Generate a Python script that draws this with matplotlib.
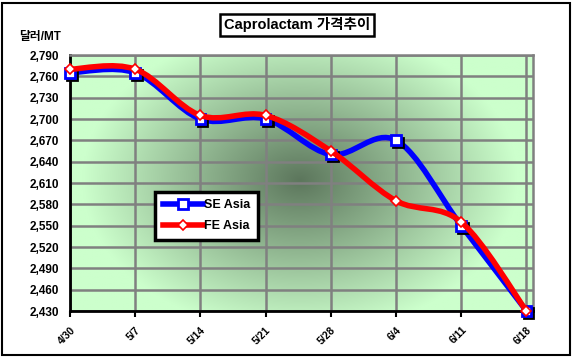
import numpy as np
import matplotlib
matplotlib.use("Agg")
import matplotlib.pyplot as plt
from matplotlib.path import Path
from matplotlib.patches import PathPatch, Rectangle
from matplotlib.lines import Line2D
import matplotlib.patheffects as pe

categories = ["4/30", "5/7", "5/14", "5/21", "5/28", "6/4", "6/11", "6/18"]
se_asia = [2765, 2765, 2700, 2700, 2650, 2670, 2550, 2430]
fe_asia = [2770, 2770, 2705, 2705, 2655, 2585, 2555, 2430]
yticks = list(range(2430, 2791, 30))

plt.rcParams['font.family'] = ['Liberation Sans', 'Noto Sans CJK KR', 'DejaVu Sans']

fig = plt.figure(figsize=(5.73, 3.57), dpi=100)
W, H = 573, 357
# figure border
fig.patches.append(Rectangle((2/W, 2/H), 1-5/W, 1-5/H, transform=fig.transFigure,
                             fill=False, edgecolor='black', linewidth=1.5))

ax = fig.add_axes([70/W, 1-311/H, (533-70)/W, (311-55)/H])
xmax = 7.1
ax.set_xlim(0, xmax)
ax.set_ylim(2430, 2790)

# background radial gradient
nx, ny = 400, 250
gx = np.linspace(0, 1, nx)
gy = np.linspace(0, 1, ny)
GX, GY = np.meshgrid(gx, gy)
cx, cy = (300-70)/(533-70), (311-180)/(311-55)
r = np.sqrt(((GX-cx)/0.47)**2 + ((GY-cy)/0.6)**2)
t = np.clip(r, 0, 1)
dark = np.array([0x5c, 0x76, 0x5c]) / 255
light = np.array([0xcc, 0xff, 0xcc]) / 255
img = dark[None, None, :]*(1-t[..., None]) + light[None, None, :]*t[..., None]
ax.imshow(img, extent=[0, xmax, 2430, 2790], origin='lower', aspect='auto', zorder=0,
          interpolation='bilinear')

# grid
for i in range(len(categories)):
    ax.axvline(i, color='#808080', linewidth=1.8, zorder=1)
for v in yticks:
    ax.axhline(v, color='#808080', linewidth=1.8, zorder=1)

for s in ['top', 'right']:
    ax.spines[s].set_color('#808080')
    ax.spines[s].set_linewidth(1.8)
for s in ['left', 'bottom']:
    ax.spines[s].set_color('black')
    ax.spines[s].set_linewidth(2)

ax.set_yticks(yticks)
ax.set_yticklabels([f"{v:,}" for v in yticks], fontsize=8.5, fontweight='bold')
ax.set_xticks(range(len(categories)))
ax.set_xticklabels(categories, fontsize=7.5, fontweight='bold', rotation=45,
                   ha='right', va='top', rotation_mode='anchor')
ax.tick_params(axis='y', length=0, pad=8)
ax.tick_params(axis='x', length=4, width=1.5, direction='out', pad=6)


def smooth_path(xs, ys):
    pts = np.column_stack([xs, ys]).astype(float)
    n = len(pts)
    verts = [pts[0]]
    codes = [Path.MOVETO]
    for i in range(n-1):
        p0 = pts[i-1] if i > 0 else pts[i]
        p1 = pts[i]
        p2 = pts[i+1]
        p3 = pts[i+2] if i+2 < n else pts[i+1]
        c1 = p1 + (p2 - p0)/6
        c2 = p2 - (p3 - p1)/6
        verts += [c1, c2, p2]
        codes += [Path.CURVE4]*3
    return Path(verts, codes)

xs = np.arange(len(categories))
shadow = [pe.SimpleLineShadow(offset=(1.5, -1.5), shadow_color='black', alpha=1), pe.Normal()]

ax.add_patch(PathPatch(smooth_path(xs, se_asia), fill=False, edgecolor='#0000ff',
                       linewidth=4, zorder=3, capstyle='round', joinstyle='round'))
ax.plot(xs, se_asia, linestyle='none', marker='s', markersize=7, markerfacecolor='white',
        markeredgecolor='#0000ff', markeredgewidth=2, zorder=4, clip_on=False,
        path_effects=shadow)
ax.add_patch(PathPatch(smooth_path(xs, fe_asia), fill=False, edgecolor='#ff0000',
                       linewidth=4, zorder=5, capstyle='round', joinstyle='round'))
ax.plot(xs, fe_asia, linestyle='none', marker='D', markersize=5, markerfacecolor='white',
        markeredgecolor='#ff0000', markeredgewidth=1.2, zorder=6, clip_on=False)

handles = [
    Line2D([], [], color='#0000ff', linewidth=4, marker='s', markersize=7,
           markerfacecolor='white', markeredgecolor='#0000ff', markeredgewidth=2),
    Line2D([], [], color='#ff0000', linewidth=4, marker='D', markersize=5,
           markerfacecolor='white', markeredgecolor='#ff0000', markeredgewidth=1.2),
]
leg = ax.legend(handles, ['SE Asia', 'FE Asia'], loc='upper left',
                bbox_to_anchor=((155-70)/(533-70), 1-(192-55)/(311-55)),
                fancybox=False, framealpha=1, edgecolor='black',
                prop={'weight': 'bold', 'size': 9}, handlelength=3.2, handletextpad=0.1,
                borderpad=0.6, labelspacing=0.7, borderaxespad=0)
leg.get_frame().set_linewidth(2.5)
leg.set_zorder(10)

# title box
fig.text(297/W, 1-25/H, "Caprolactam 가격추이", ha='center', va='center', fontsize=10.5,
         fontweight='bold',
         bbox=dict(boxstyle='square,pad=0.25', facecolor='white', edgecolor='black', linewidth=1.8))
# y axis unit label
fig.text(19/W, 1-37/H, "달러/MT", ha='left', va='center', fontsize=8.5, fontweight='bold')

fig.savefig("out.png", dpi=100)
